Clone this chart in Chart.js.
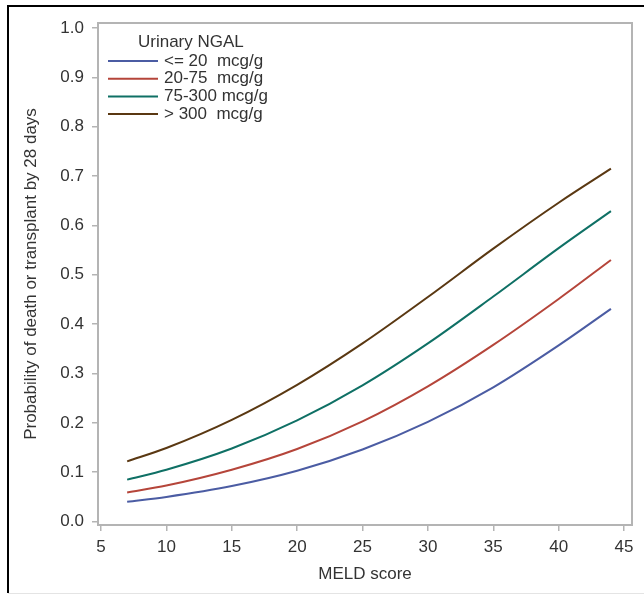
<!DOCTYPE html>
<html>
<head>
<meta charset="utf-8">
<script src="https://cdn.jsdelivr.net/npm/chart.js@4/dist/chart.umd.min.js"></script>
<style>
  html, body { margin: 0; padding: 0; background: #fff; }
  #wrap { width: 644px; height: 595px; position: relative; }
</style>
</head>
<body>
<div id="wrap"><canvas id="chart"></canvas></div>
<script>
// MELD score grid where the predicted curves were read
const meld = [7, 10, 15, 20, 25, 30, 35, 40, 44];

// Predicted probability of death or transplant by 28 days, per NGAL group
const ngalLow    = [0.040, 0.050, 0.072, 0.103, 0.146, 0.202, 0.272, 0.357, 0.431];
const ngalMid    = [0.059, 0.073, 0.105, 0.147, 0.203, 0.274, 0.358, 0.451, 0.530];
const ngalHigh   = [0.085, 0.105, 0.148, 0.205, 0.276, 0.361, 0.456, 0.554, 0.629];
const ngalTop    = [0.122, 0.149, 0.206, 0.277, 0.361, 0.455, 0.553, 0.646, 0.715];

const groupLabels = ['<= 20  mcg/g', '20-75  mcg/g', '75-300 mcg/g', '> 300  mcg/g'];
const xTicks = [5, 10, 15, 20, 25, 30, 35, 40, 45];
const yTicks = [0, 0.1, 0.2, 0.3, 0.4, 0.5, 0.6, 0.7, 0.8, 0.9, 1.0];

const colors = ['#4b5ca3', '#b5453a', '#0f7065', '#5a3812'];
const series = [ngalLow, ngalMid, ngalHigh, ngalTop];

const FONT = { family: '"Liberation Sans", Arial, sans-serif', size: 17 };
const TEXT = '#333';
const AXIS = '#b4b4b4';

// outer frame + plot box + legend inside the plot
const framePlugin = {
  id: 'frame',
  beforeDraw(chart) {
    const ctx = chart.ctx;
    ctx.save();
    ctx.fillStyle = '#fff';
    ctx.fillRect(0, 0, chart.width, chart.height);
    ctx.restore();
  },
  afterDraw(chart) {
    const { ctx, chartArea: a } = chart;
    ctx.save();
    // page frame
    ctx.strokeStyle = '#000';
    ctx.lineWidth = 2;
    ctx.beginPath();
    ctx.moveTo(8, 593);
    ctx.lineTo(8, 6);
    ctx.lineTo(chart.width, 6);
    ctx.stroke();
    ctx.strokeStyle = '#e4e4e4';
    ctx.lineWidth = 1;
    ctx.beginPath();
    ctx.moveTo(8, 593.5);
    ctx.lineTo(chart.width, 593.5);
    ctx.stroke();

    // plot box
    ctx.strokeStyle = AXIS;
    ctx.lineWidth = 2;
    ctx.strokeRect(a.left, a.top, a.right - a.left, a.bottom - a.top);

    // legend
    ctx.font = `${FONT.size}px ${FONT.family}`;
    ctx.fillStyle = TEXT;
    ctx.textBaseline = 'middle';
    ctx.textAlign = 'left';
    ctx.fillText('Urinary NGAL', a.left + 40, a.top + 19);
    chart.data.datasets.forEach((ds, i) => {
      const y = a.top + 38 + i * 17.7;
      ctx.strokeStyle = ds.borderColor;
      ctx.lineWidth = 2;
      ctx.beginPath();
      ctx.moveTo(a.left + 10, y);
      ctx.lineTo(a.left + 60, y);
      ctx.stroke();
      ctx.fillStyle = TEXT;
      ctx.fillText(ds.label, a.left + 66, y);
    });
    ctx.restore();
  }
};

new Chart(document.getElementById('chart').getContext('2d'), {
  type: 'line',
  data: {
    datasets: series.map((vals, i) => ({
      label: groupLabels[i],
      data: meld.map((m, j) => ({ x: m, y: vals[j] })),
      borderColor: colors[i],
      borderWidth: 2,
      pointRadius: 0,
      fill: false,
      cubicInterpolationMode: 'monotone'
    }))
  },
  options: {
    responsive: true,
    maintainAspectRatio: false,
    animation: false,
    layout: { padding: { left: 0, top: 23, right: 12, bottom: 0 } },
    scales: {
      x: {
        type: 'linear',
        min: 4.77,
        max: 45.61,
        afterBuildTicks: s => { s.ticks = xTicks.map(v => ({ value: v })); },
        afterFit: s => { s.height = 70; },
        border: { display: false },
        grid: { drawOnChartArea: false, drawTicks: true, tickLength: 6, color: AXIS, lineWidth: 1.5 },
        ticks: { color: TEXT, font: FONT, padding: 6, maxRotation: 0, callback: v => String(v) },
        title: { display: true, text: 'MELD score', color: TEXT, font: FONT, padding: { top: 0, bottom: 10 } }
      },
      y: {
        min: -0.0069,
        max: 1.0101,
        afterBuildTicks: s => { s.ticks = yTicks.map(v => ({ value: v })); },
        afterFit: s => { s.width = 98; },
        border: { display: false },
        grid: { drawOnChartArea: false, drawTicks: true, tickLength: 6, color: AXIS, lineWidth: 1.5 },
        ticks: { color: TEXT, font: FONT, padding: 8, callback: v => v.toFixed(1) },
        title: {
          display: true,
          text: 'Probability of death or transplant by 28 days',
          color: TEXT, font: FONT, padding: { top: 21, bottom: 0 }
        }
      }
    },
    plugins: {
      legend: { display: false },
      tooltip: { enabled: false }
    }
  },
  plugins: [framePlugin]
});
</script>
</body>
</html>
